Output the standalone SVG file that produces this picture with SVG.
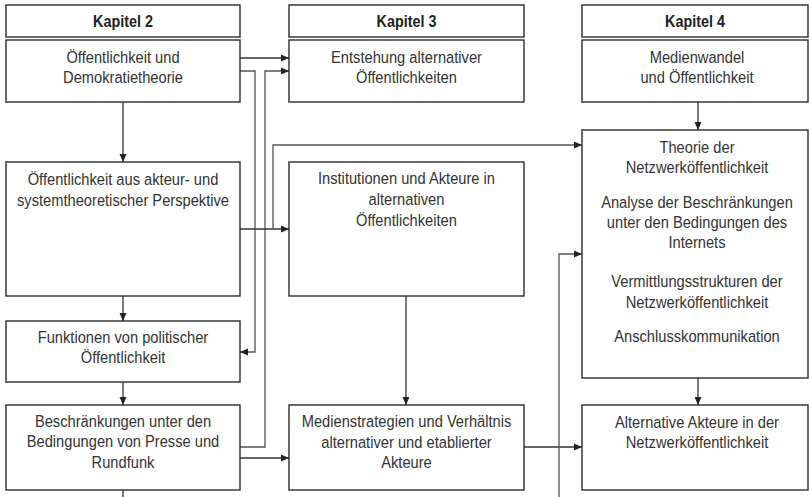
<svg xmlns="http://www.w3.org/2000/svg" width="809" height="497" viewBox="0 0 809 497">
<style>
.box{fill:#fff;stroke:#2b2b2b;stroke-width:1.4}
.t{font-family:"Liberation Sans",Arial,sans-serif;font-size:16.5px;fill:#333;text-anchor:middle}
.h{font-family:"Liberation Sans",Arial,sans-serif;font-size:16.5px;font-weight:bold;fill:#222;text-anchor:middle}
.c{fill:none;stroke:#333;stroke-width:1.3}
.g{fill:none;stroke:#555;stroke-width:1.3}
</style>
<defs>
<marker id="a" viewBox="0 0 8 8" refX="8" refY="4" markerWidth="8" markerHeight="8" markerUnits="userSpaceOnUse" orient="auto">
<path d="M0,0.5 L8,4 L0,7.5 Z" fill="#222"/>
</marker>
</defs>
<rect width="809" height="497" fill="#fff"/>
<g id="connectors">
<path class="c" d="M240,58 H289" marker-end="url(#a)"/>
<path class="g" d="M240,71 H255 V352 H240" marker-end="url(#a)"/>
<path class="g" d="M240,447 H265 V71 H289" marker-end="url(#a)"/>
<path class="c" d="M240,229 H289" marker-end="url(#a)"/>
<path class="g" d="M273,229 V145 H582" marker-end="url(#a)"/>
<path class="c" d="M240,458 H289" marker-end="url(#a)"/>
<path class="c" d="M524,447 H582" marker-end="url(#a)"/>
<path class="g" d="M559,497 V254 H582" marker-end="url(#a)"/>
<path class="c" d="M123,102 V162" marker-end="url(#a)"/>
<path class="c" d="M123,296 V321" marker-end="url(#a)"/>
<path class="c" d="M123,382 V405" marker-end="url(#a)"/>
<path class="c" d="M123,490 V497"/>
<path class="c" d="M406,296 V405" marker-end="url(#a)"/>
<path class="c" d="M698,102 V130" marker-end="url(#a)"/>
<path class="c" d="M698,378 V405" marker-end="url(#a)"/>
</g>
<g id="h2"><rect class="box" x="6" y="5" width="234" height="32"/><g transform="matrix(0.87 0 0 1 15.99 0)"><text class="h" x="123" y="27.5">Kapitel 2</text></g></g>
<g id="h3"><rect class="box" x="289" y="5" width="235" height="32"/><g transform="matrix(0.87 0 0 1 52.845 0)"><text class="h" x="406.5" y="27.5">Kapitel 3</text></g></g>
<g id="h4"><rect class="box" x="582" y="5" width="226" height="32"/><g transform="matrix(0.87 0 0 1 90.35 0)"><text class="h" x="695" y="27.5">Kapitel 4</text></g></g>
<g id="n1"><rect class="box" x="6" y="40" width="234" height="62"/><g transform="matrix(0.89 0 0 1 13.53 0)"><text class="t" x="123" y="63">Öffentlichkeit und</text><text class="t" x="123" y="83">Demokratietheorie</text></g></g>
<g id="n2"><rect class="box" x="6" y="162" width="234" height="134"/><g transform="matrix(0.89 0 0 1 13.53 0)"><text class="t" x="123" y="185">Öffentlichkeit aus akteur- und</text><text class="t" x="123" y="206">systemtheoretischer Perspektive</text></g></g>
<g id="n3"><rect class="box" x="6" y="321" width="234" height="61"/><g transform="matrix(0.89 0 0 1 13.53 0)"><text class="t" x="123" y="343">Funktionen von politischer</text><text class="t" x="123" y="363">Öffentlichkeit</text></g></g>
<g id="n4"><rect class="box" x="6" y="405" width="234" height="85"/><g transform="matrix(0.89 0 0 1 13.53 0)"><text class="t" x="123" y="427">Beschränkungen unter den</text><text class="t" x="123" y="447">Bedingungen von Presse und</text><text class="t" x="123" y="468">Rundfunk</text></g></g>
<g id="n5"><rect class="box" x="289" y="40" width="235" height="62"/><g transform="matrix(0.89 0 0 1 44.715 0)"><text class="t" x="406.5" y="63">Entstehung alternativer</text><text class="t" x="406.5" y="83">Öffentlichkeiten</text></g></g>
<g id="n6"><rect class="box" x="289" y="162" width="235" height="134"/><g transform="matrix(0.89 0 0 1 44.715 0)"><text class="t" x="406.5" y="184">Institutionen und Akteure in</text><text class="t" x="406.5" y="205">alternativen</text><text class="t" x="406.5" y="226">Öffentlichkeiten</text></g></g>
<g id="n7"><rect class="box" x="289" y="405" width="235" height="85"/><g transform="matrix(0.89 0 0 1 44.715 0)"><text class="t" x="406.5" y="427">Medienstrategien und Verhältnis</text><text class="t" x="406.5" y="448">alternativer und etablierter</text><text class="t" x="406.5" y="468">Akteure</text></g></g>
<g id="n8"><rect class="box" x="582" y="40" width="226" height="62"/><g transform="matrix(0.89 0 0 1 76.67 0)"><text class="t" x="697" y="63">Medienwandel</text><text class="t" x="697" y="83">und Öffentlichkeit</text></g></g>
<g id="n9"><rect class="box" x="582" y="130" width="226" height="248"/><g transform="matrix(0.89 0 0 1 76.67 0)">
<text class="t" x="697" y="153">Theorie der</text><text class="t" x="697" y="173">Netzwerköffentlichkeit</text>
<text class="t" x="697" y="208">Analyse der Beschränkungen</text><text class="t" x="697" y="228">unter den Bedingungen des</text><text class="t" x="697" y="248">Internets</text>
<text class="t" x="697" y="287">Vermittlungsstrukturen der</text><text class="t" x="697" y="308">Netzwerköffentlichkeit</text>
<text class="t" x="697" y="342">Anschlusskommunikation</text></g></g>
<g id="n10"><rect class="box" x="582" y="405" width="226" height="85"/><g transform="matrix(0.89 0 0 1 76.67 0)"><text class="t" x="697" y="428">Alternative Akteure in der</text><text class="t" x="697" y="448">Netzwerköffentlichkeit</text></g></g>
</svg>
